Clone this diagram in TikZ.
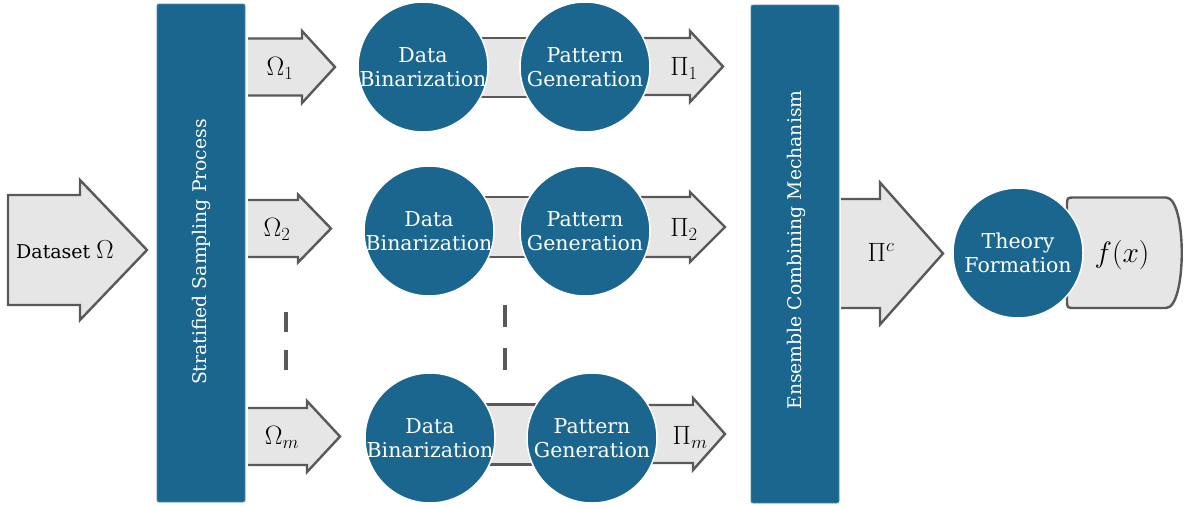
\RequirePackage{fix-cm}
\documentclass[tikz,border=0pt]{standalone}
\usepackage{fontspec}
\setmainfont{DejaVu Serif}
\usetikzlibrary{backgrounds}
\definecolor{procblue}{RGB}{26,102,142}
\definecolor{barline}{RGB}{80,135,172}
\definecolor{panelgray}{RGB}{230,230,230}
\definecolor{edgegray}{RGB}{89,89,89}
% block arrow with an open tail: tail x, centre y, tip x, body half-width, head half-width, head length
\newcommand\blockarrow[6]{%
  \fill[panelgray] (#1,#2-#4) -- (#3-#6,#2-#4) -- (#3-#6,#2-#5) -- (#3,#2)
    -- (#3-#6,#2+#5) -- (#3-#6,#2+#4) -- (#1,#2+#4) -- cycle;
  \draw[arrowstyle] (#1,#2-#4) -- (#3-#6,#2-#4) -- (#3-#6,#2-#5) -- (#3,#2)
    -- (#3-#6,#2+#5) -- (#3-#6,#2+#4) -- (#1,#2+#4);}
\begin{document}
\begin{tikzpicture}[x=1pt,y=-1pt,
  arrowstyle/.style={fill=panelgray,draw=edgegray,line width=2.4pt,line join=miter},
  bandstyle/.style={fill=panelgray,draw=edgegray,line width=2.4pt},
  stage/.style={circle,fill=procblue,draw=white,line width=1.5pt,minimum size=130pt,
    inner sep=0pt,label={[stagetext]center:#1}},
  stagetext/.style={align=center,text=white,inner sep=0pt,
    font=\fontsize{20.5}{24.5}\selectfont},
  procbar/.style={fill=procblue,draw=barline,line width=0.8pt,rounded corners=2pt},
  bartext/.style={text=white,rotate=90,font=\fontsize{18.8}{22}\selectfont},
  mathlabel/.style={font=\fontsize{26.5}{30}\selectfont},
  gap/.style={draw=edgegray,line width=3.5pt,dash pattern=on 20pt off 18pt}]
\useasboundingbox (0,0) rectangle (1185,506);

% processing bars
\draw[procbar] (157,4) rectangle (245,502);
\draw[procbar] (751,5) rectangle (839,503);
\node[bartext] (sampling) at (201,252) {Stratified Sampling Process};
\node[bartext] (ensemble) at (796,250) {Ensemble Combining Mechanism};

% per-sample pipelines
\node[stage={Data\\Binarization}] (db1) at (423,67) {};
\node[stage={Pattern\\Generation}] (pg1) at (585,67) {};
\node[stage={Data\\Binarization}] (db2) at (429,231) {};
\node[stage={Pattern\\Generation}] (pg2) at (585,231) {};
\node[stage={Data\\Binarization}] (dbm) at (430,438) {};
\node[stage={Pattern\\Generation}] (pgm) at (592,438) {};
\node[stage={Theory\\Formation}] (theory) at (1018,253) {};

\begin{pgfonlayer}{background}
  % input dataset
  \draw[arrowstyle] (8,195) -- (80,195) -- (80,180) -- (147,250) -- (80,320)
    -- (80,305) -- (8,305) -- cycle;
  % samples leaving the stratified sampler
  \blockarrow{248}{67}{335}{28.5}{36}{33}
  \blockarrow{248}{228.5}{331}{28.5}{34}{33}
  \blockarrow{248}{436.5}{340}{28.5}{35.5}{33}
  % pattern sets
  \blockarrow{600}{66.5}{723}{28.5}{35.5}{33}
  \blockarrow{600}{227}{725}{30}{35}{35}
  \blockarrow{610}{434}{725}{29}{36}{32}
  % combined pattern set
  \blockarrow{841}{253.5}{943}{54.5}{71}{63}
  % links between the two stages of each pipeline
  \draw[bandstyle] ([yshift=29pt]db1.center) rectangle ([yshift=-30pt]pg1.center);
  \draw[bandstyle] ([yshift=34pt]db2.center) rectangle ([yshift=-26pt]pg2.center);
  \draw[bandstyle] ([yshift=33.5pt]dbm.center) rectangle ([yshift=-26.5pt]pgm.center);
  % output function
  \draw[bandstyle,line join=round]
    (1075,197.5) -- (1166,197.5) .. controls (1187,197.5) and (1187,308) .. (1166,308)
    -- (1075,308) .. controls (1067,308) .. (1067,300) -- (1067,205.5)
    .. controls (1067,197.5) .. cycle;
\end{pgfonlayer}

% labels
\node (dataset) at (65,250) {\fontsize{19}{22}\selectfont Dataset \fontsize{26}{30}\selectfont$\Omega$};
\node[mathlabel] (om1) at (280,68) {$\Omega_1$};
\node[mathlabel] (om2) at (277,229) {$\Omega_2$};
\node[mathlabel] (omm) at (282,437) {$\Omega_m$};
\node[mathlabel] (pi1) at (684,68) {$\Pi_1$};
\node[mathlabel] (pi2) at (684,229) {$\Pi_2$};
\node[mathlabel] (pim) at (690,437) {$\Pi_m$};
\node[mathlabel] (pic) at (881,252) {$\Pi^c$};
\node[font=\fontsize{29.5}{33}\selectfont] (fx) at (1122,255) {$f(x)$};

% omitted intermediate samples
\coordinate (gapa1) at (286,312); \coordinate (gapa2) at (286,370);
\coordinate (gapb1) at (505,305); \coordinate (gapb2) at (505,370);
\draw[gap] (gapa1) -- (gapa2);
\draw[gap,dash pattern=on 22pt off 21pt] (gapb1) -- (gapb2);
\end{tikzpicture}
\end{document}
